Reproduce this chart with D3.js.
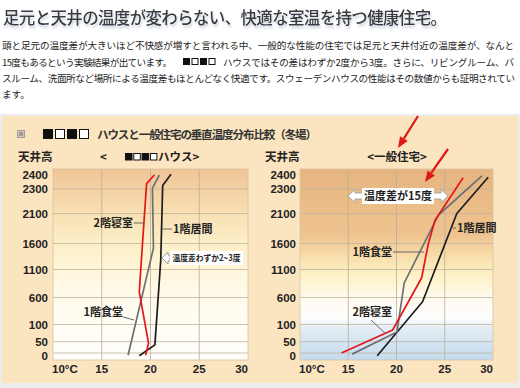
<!DOCTYPE html>
<html lang="ja">
<head>
  <meta charset="UTF-8">
  <title>垂直温度分布比較</title>
  <style>
    body { margin: 0; background: #fff; }
    svg { display: block; }
    .jp { font-family: "Noto Sans CJK JP", "Noto Sans", sans-serif; }
    .num { font-family: Arial, "Liberation Sans", sans-serif; font-weight: bold; font-size: 11.5px; fill: #222; }
  </style>
</head>
<body>
  <div id="chart"></div>

  <script src="https://d3js.org/d3.v7.min.js"></script>
  <script>
    // y-axis: ceiling heights (mm), non-uniform spacing
    const heightTicks = [0, 50, 100, 600, 1100, 1600, 2100, 2300, 2400];
    const tempTicks = [10, 15, 20, 25, 30];
    const tempLabels = ["10°C", "15", "20", "25", "30"];

    // left: our house  [temp °C, height mm]
    const oursBedroom = [[19.5, -10], [19.8, 43], [18.85, 700], [19.2, 1650], [19.6, 2338], [20.4, 2400]];
    const oursDining  = [[17.7, -10], [20.3, 1510], [20.2, 2307], [20.9, 2400]];
    const oursLiving  = [[18.85, -12], [20.45, 36], [21.05, 1280], [21.25, 2325], [22.1, 2405]];

    // right: ordinary house
    const normalBedroom = [[14.3, 0], [19.6, 84], [22.6, 948], [23.3, 1600], [24.0, 1990], [26.9, 2380]];
    const normalDining  = [[15.4, -5], [20.05, 78], [20.8, 860], [24.35, 2075], [28.85, 2393]];
    const normalLiving  = [[18.0, -12], [22.7, 522], [26.25, 2100], [29.5, 2384]];

    const W = 520, H = 388;
    const svg = d3.select("#chart").append("svg").attr("width", W).attr("height", H);
    const defs = svg.append("defs");

    const shadow = defs.append("filter").attr("id", "shadow").attr("x", "-5%").attr("y", "-30%").attr("width", "110%").attr("height", "170%");
    shadow.append("feDropShadow").attr("dx", 1).attr("dy", 2.5).attr("stdDeviation", 1.2)
      .attr("flood-color", "#9fb0c8").attr("flood-opacity", 0.6);

    function grad(id, stops) {
      const g = defs.append("linearGradient").attr("id", id).attr("x1", 0).attr("y1", 0).attr("x2", 0).attr("y2", 1);
      stops.forEach(s => g.append("stop").attr("offset", s[0]).attr("stop-color", s[1]));
    }
    grad("bgLeft", [[0, "#efc596"], [0.1, "#f3d0a2"], [0.25, "#f8e2b6"], [0.4, "#fdf0c8"], [0.55, "#fff7dd"], [0.7, "#fffbef"], [1, "#fffefb"]]);
    grad("bgRight", [[0, "#e6b480"], [0.35, "#efc490"], [0.45, "#f8dcaa"], [0.55, "#fdf1c4"], [0.68, "#fffbf0"], [0.78, "#fdfdfd"], [0.84, "#e2ecf4"], [1, "#c3dbef"]]);

    // ---- heading + paragraph
    svg.append("text").attr("class", "jp").attr("x", 3).attr("y", 24)
      .attr("font-size", 16.5).attr("font-weight", 500).attr("fill", "#3a3a3a")
      .attr("textLength", 444).attr("lengthAdjust", "spacing").attr("filter", "url(#shadow)")
      .text("足元と天井の温度が変わらない、快適な室温を持つ健康住宅。");

    const para = svg.append("g").attr("class", "jp").attr("font-size", 9.6).attr("fill", "#222");
    para.append("text").attr("x", 2).attr("y", 49).attr("textLength", 512).attr("lengthAdjust", "spacing")
      .text("頭と足元の温度差が大きいほど不快感が増すと言われる中、一般的な性能の住宅では足元と天井付近の温度差が、なんと");
    para.append("text").attr("x", 2).attr("y", 66).attr("textLength", 170).attr("lengthAdjust", "spacing")
      .text("15度もあるという実験結果が出ています。");
    para.append("text").attr("x", 223).attr("y", 66).attr("textLength", 291).attr("lengthAdjust", "spacing")
      .text("ハウスではその差はわずか2度から3度。さらに、リビングルーム、バ");
    para.append("text").attr("x", 2).attr("y", 82).attr("textLength", 513).attr("lengthAdjust", "spacing")
      .text("スルーム、洗面所など場所による温度差もほとんどなく快適です。スウェーデンハウスの性能はその数値からも証明されてい");
    para.append("text").attr("x", 2).attr("y", 98).text("ます。");

    function squares(x, y, size, gap) {
      [1, 0, 1, 0].forEach((filled, i) => {
        svg.append("rect").attr("x", x + i * (size + gap) + 0.5).attr("y", y + 0.5)
          .attr("width", size - 1).attr("height", size - 1)
          .attr("fill", filled ? "#111" : "#fff").attr("stroke", "#111").attr("stroke-width", 1);
      });
    }
    squares(183, 58, 7, 1.5);

    // ---- panel
    svg.append("rect").attr("x", 0).attr("y", 114).attr("width", W).attr("height", H - 114).attr("fill", "#ededed");
    svg.append("rect").attr("x", 2).attr("y", 116).attr("width", 516).attr("height", 267).attr("fill", "#fbe4c0");

    // header row
    const hatch = svg.append("g");
    hatch.append("rect").attr("x", 17).attr("y", 130).attr("width", 8).attr("height", 8).attr("fill", "#a09a92");
    hatch.append("rect").attr("x", 18.5).attr("y", 131.5).attr("width", 5).attr("height", 5).attr("fill", "none").attr("stroke", "#d8d2c8").attr("stroke-width", 0.8);
    squares(43, 129, 10, 2);
    svg.append("text").attr("class", "jp").attr("x", 97).attr("y", 138.5).attr("font-size", 11.5).attr("font-weight", 700)
      .attr("fill", "#333").attr("textLength", 220).attr("lengthAdjust", "spacing")
      .text("ハウスと一般住宅の垂直温度分布比較（冬場）");

    const sub = svg.append("g").attr("class", "jp").attr("font-size", 11.5).attr("font-weight", 700).attr("fill", "#222");
    sub.append("text").attr("x", 18).attr("y", 161).text("天井高");
    sub.append("text").attr("x", 265).attr("y", 161).text("天井高");
    sub.append("text").attr("x", 100).attr("y", 161).text("<");
    squares(125, 153, 7.5, 0.8);
    sub.append("text").attr("x", 158).attr("y", 161).text("ハウス>");
    sub.append("text").attr("x", 397).attr("y", 161).attr("text-anchor", "middle").text("<一般住宅>");

    // ---- charts
    const yScale = d3.scaleLinear().domain(heightTicks)
      .range([353, 341.7, 324.5, 297.5, 269.5, 243.5, 213.5, 189, 175]);
    const plotTop = 169, plotBottom = 360;

    const seriesColor = { bedroom: "#e3161c", dining: "#6e7174", living: "#1c1c1c" };

    function drawChart(x0, x1, axisRight, bgId, series) {
      const x = d3.scaleLinear().domain([10, 30]).range([x0, x1]);
      const g = svg.append("g");
      g.append("rect").attr("x", x0).attr("y", plotTop).attr("width", x1 - x0).attr("height", plotBottom - plotTop)
        .attr("fill", `url(#${bgId})`);

      // grid
      g.selectAll(".hg").data(heightTicks.filter(h => h < 2400)).join("line")
        .attr("x1", x0).attr("x2", x1).attr("y1", d => yScale(d)).attr("y2", d => yScale(d))
        .attr("stroke", "#bfb3a0").attr("stroke-width", 0.8);
      g.selectAll(".vg").data(tempTicks.slice(1, -1)).join("line")
        .attr("x1", d => x(d)).attr("x2", d => x(d)).attr("y1", plotTop).attr("y2", plotBottom)
        .attr("stroke", "#b9ad9a").attr("stroke-width", 0.8);
      g.append("rect").attr("x", x0).attr("y", plotTop).attr("width", x1 - x0).attr("height", plotBottom - plotTop)
        .attr("fill", "none").attr("stroke", "#d8c4a4").attr("stroke-width", 0.8);

      // y labels
      g.selectAll(".yl").data(heightTicks).join("text").attr("class", "num")
        .attr("x", axisRight).attr("y", d => d === 0 ? 356 : yScale(d)).attr("dy", "0.36em")
        .attr("text-anchor", "end").text(d => d);

      // x labels
      g.selectAll(".xl").data(tempTicks).join("text").attr("class", "num")
        .attr("x", (d, i) => i === 0 ? x0 - 1 : i === tempTicks.length - 1 ? x1 : x(d))
        .attr("y", 373)
        .attr("text-anchor", (d, i) => i === 0 ? "start" : i === tempTicks.length - 1 ? "end" : "middle")
        .text((d, i) => tempLabels[i]);

      const line = d3.line().x(d => x(d[0])).y(d => yScale(d[1]));
      series.forEach(s => {
        g.append("path").attr("d", line(s.values)).attr("fill", "none")
          .attr("stroke", seriesColor[s.key]).attr("stroke-width", 1.7).attr("stroke-linejoin", "round");
      });
      return g;
    }

    const left = drawChart(53, 248, 48, "bgLeft", [
      { key: "dining", values: oursDining },
      { key: "living", values: oursLiving },
      { key: "bedroom", values: oursBedroom }
    ]);
    const right = drawChart(300, 493, 296, "bgRight", [
      { key: "living", values: normalLiving },
      { key: "dining", values: normalDining },
      { key: "bedroom", values: normalBedroom }
    ]);

    // ---- annotations
    function label(g, txt, x, y, anchor) {
      g.append("text").attr("class", "jp").attr("x", x).attr("y", y).attr("dy", "0.36em")
        .attr("font-size", 11).attr("font-weight", 700).attr("fill", "#222")
        .attr("text-anchor", anchor || "start").text(txt);
    }
    function leader(g, x1, y1, x2, y2) {
      g.append("line").attr("x1", x1).attr("y1", y1).attr("x2", x2).attr("y2", y2)
        .attr("stroke", "#666").attr("stroke-width", 1);
    }
    label(left, "2階寝室", 133, 223, "end");
    leader(left, 134, 223, 143, 223);
    label(left, "1階居間", 173, 229);
    leader(left, 162, 229, 172, 229);
    label(left, "1階食堂", 123, 312, "end");
    leader(left, 123, 317, 134, 320);

    // callout left
    const co = left.append("g");
    co.append("path").attr("d", "M162,258 L168,252 L168,255 L170,255 L170,261 L168,261 L168,264 Z")
      .attr("fill", "#fff").attr("stroke", "#888").attr("stroke-width", 0.8);
    co.append("rect").attr("x", 170).attr("y", 251).attr("width", 73).attr("height", 14).attr("fill", "#fff");
    co.append("text").attr("class", "jp").attr("x", 206.5).attr("y", 258).attr("dy", "0.36em")
      .attr("text-anchor", "middle").attr("font-size", 8.5).attr("font-weight", 700).attr("fill", "#222")
      .attr("textLength", 68).attr("lengthAdjust", "spacingAndGlyphs").text("温度差わずか2~3度");

    label(right, "1階食堂", 392, 252, "end");
    leader(right, 393, 252, 424, 252);
    label(right, "2階寝室", 392, 312, "end");
    leader(right, 371, 320, 386, 334);
    label(right, "1階居間", 457, 228);
    leader(right, 451, 228, 456, 228);

    // callout right (double arrow)
    const dbl = right.append("g");
    dbl.append("path").attr("d", "M348,196 L355,189.5 L355,193 L363,193 L363,199 L355,199 L355,202.5 Z")
      .attr("fill", "#fff").attr("stroke", "#999").attr("stroke-width", 0.8);
    dbl.append("path").attr("d", "M448,196 L441,189.5 L441,193 L433,193 L433,199 L441,199 L441,202.5 Z")
      .attr("fill", "#fff").attr("stroke", "#999").attr("stroke-width", 0.8);
    dbl.append("rect").attr("x", 362).attr("y", 188).attr("width", 72).attr("height", 16).attr("fill", "#fff");
    dbl.append("text").attr("class", "jp").attr("x", 398).attr("y", 196).attr("dy", "0.36em")
      .attr("text-anchor", "middle").attr("font-size", 11).attr("font-weight", 700).attr("fill", "#222")
      .text("温度差が15度");

    // hand-drawn red arrows
    function redArrow(x1, y1, x2, y2) {
      const a = Math.atan2(y2 - y1, x2 - x1), L = 11, w = 4.5;
      const bx = x2 - L * Math.cos(a), by = y2 - L * Math.sin(a);
      const nx = -Math.sin(a) * w, ny = Math.cos(a) * w;
      svg.append("line").attr("x1", x1).attr("y1", y1).attr("x2", bx).attr("y2", by)
        .attr("stroke", "#e01818").attr("stroke-width", 2.2);
      svg.append("path").attr("d", `M${x2},${y2} L${bx + nx},${by + ny} L${bx - nx},${by - ny} Z`).attr("fill", "#e01818");
    }
    redArrow(418, 116, 398, 148);
    redArrow(448, 149, 425, 182);
  </script>
</body>
</html>
